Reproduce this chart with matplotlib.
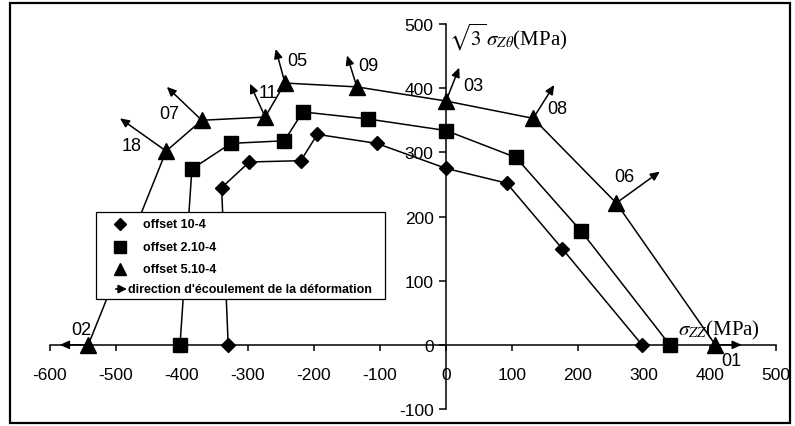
import numpy as np
import matplotlib.pyplot as plt
from matplotlib.patches import Rectangle
from matplotlib.lines import Line2D

plt.rcParams['font.family'] = ['Liberation Sans', 'DejaVu Sans']
plt.rcParams['mathtext.fontset'] = 'stix'
plt.rcParams['axes.unicode_minus'] = False

# offset 10-4
diamond_x = [-330, -340, -298, -220, -195, -105, 0, 92, 176, 297]
diamond_y = [0, 245, 285, 287, 328, 314, 275, 252, 150, 0]
# offset 2.10-4
square_x = [-403, -385, -326, -245, -217, -118, 0, 106, 205, 339]
square_y = [0, 274, 314, 318, 363, 352, 334, 292, 177, 0]
# offset 5.10-4
triangle_x = [-542, -424, -370, -274, -244, -135, 0, 132, 258, 408]
triangle_y = [0, 302, 350, 355, 408, 402, 380, 353, 221, 0]

# flow direction arrows: label, start point index on triangles, arrow end, label position
arrow_names = ['02', '18', '07', '11', '05', '09', '03', '08', '06', '01']
arrow_idx = [0, 1, 2, 3, 4, 5, 6, 7, 8, 9]
arrow_end_x = [-585, -494, -423, -297, -258, -150, 20, 164, 324, 448]
arrow_end_y = [0, 353, 402, 407, 461, 451, 432, 405, 270, 0]
label_x = [-552, -476, -420, -270, -226, -117, 42, 168, 270, 433]
label_y = [24, 311, 361, 393, 443, 435, 404, 369, 263, -24]

legend_labels = ['offset 10-4', 'offset 2.10-4', 'offset 5.10-4',
                 "direction d'écoulement de la déformation"]

fig = plt.figure(figsize=(7.95, 4.27), dpi=100)
ax = fig.add_axes([0.0629, 0.0398, 0.9132, 0.9016])

lw = 1.1
ax.plot(diamond_x, diamond_y, color='k', lw=lw, marker='D', ms=7.5, zorder=3)
ax.plot(square_x, square_y, color='k', lw=lw, marker='s', ms=10.5, zorder=3)
ax.plot(triangle_x, triangle_y, color='k', lw=lw, marker='^', ms=11, zorder=3)

for name, i, ex, ey, lx, ly in zip(arrow_names, arrow_idx, arrow_end_x, arrow_end_y,
                                   label_x, label_y):
    ax.annotate('', xy=(ex, ey), xytext=(triangle_x[i], triangle_y[i]),
                arrowprops=dict(arrowstyle='-|>,head_length=0.55,head_width=0.25',
                                color='k', lw=lw, shrinkA=0, shrinkB=0),
                zorder=2)
    ax.text(lx, ly, name, fontsize=13, ha='center', va='center', zorder=4)

ax.set_xlim(-600, 500)
ax.set_ylim(-100, 500)
ax.spines['left'].set_position(('data', 0))
ax.spines['bottom'].set_position(('data', 0))
ax.spines['top'].set_visible(False)
ax.spines['right'].set_visible(False)
for s in ['left', 'bottom']:
    ax.spines[s].set_linewidth(1.1)
ax.set_xticks(np.arange(-600, 501, 100))
ax.set_yticks(np.arange(-100, 501, 100))
ax.tick_params(axis='x', direction='out', length=4, width=1.1, pad=12, labelsize=12.5)
ax.tick_params(axis='y', direction='out', length=5, width=1.1, pad=4, labelsize=12.5)
ax.patch.set_visible(False)

ax.text(4, 480, r'$\sqrt{3}\,\sigma_{Z\theta}$(MPa)',
        fontsize=15, family='Liberation Serif', ha='left', va='center')
ax.text(352, 24, r'$\sigma_{ZZ}$(MPa)',
        fontsize=15, family='Liberation Serif', ha='left', va='center', zorder=5)

# legend box
x0, y0, x1, y1 = 0.0634, 0.2857, 0.4614, 0.5117
ax.add_patch(Rectangle((x0, y0), x1 - x0, y1 - y0, transform=ax.transAxes,
                       facecolor='white', edgecolor='k', lw=0.9, zorder=6))
rows = [0.4805, 0.4208, 0.3636, 0.3117]
mk = [('D', 6), ('s', 8), ('^', 9)]
for (m, s), yy, lab in zip(mk, rows[:3], legend_labels[:3]):
    ax.add_line(Line2D([0.0964], [yy], marker=m, ms=s, color='k', ls='none',
                       transform=ax.transAxes, zorder=7))
    ax.text(0.128, yy, lab, transform=ax.transAxes, fontsize=9, fontweight='bold',
            ha='left', va='center', zorder=7)
ax.annotate('', xy=(0.1060, rows[3]), xytext=(0.0905, rows[3]),
            xycoords='axes fraction',
            arrowprops=dict(arrowstyle='-|>,head_length=0.5,head_width=0.25',
                            color='k', lw=1.2, shrinkA=0, shrinkB=0), zorder=7)
ax.text(0.1075, rows[3], legend_labels[3], transform=ax.transAxes, fontsize=9,
        fontweight='bold', ha='left', va='center', zorder=7)

fig.patches.append(Rectangle((10 / 795, 1 - 424 / 427), 780 / 795, 420 / 427,
                             transform=fig.transFigure, fill=False, lw=1.6,
                             edgecolor='k'))

fig.savefig('out.png', dpi=100)
